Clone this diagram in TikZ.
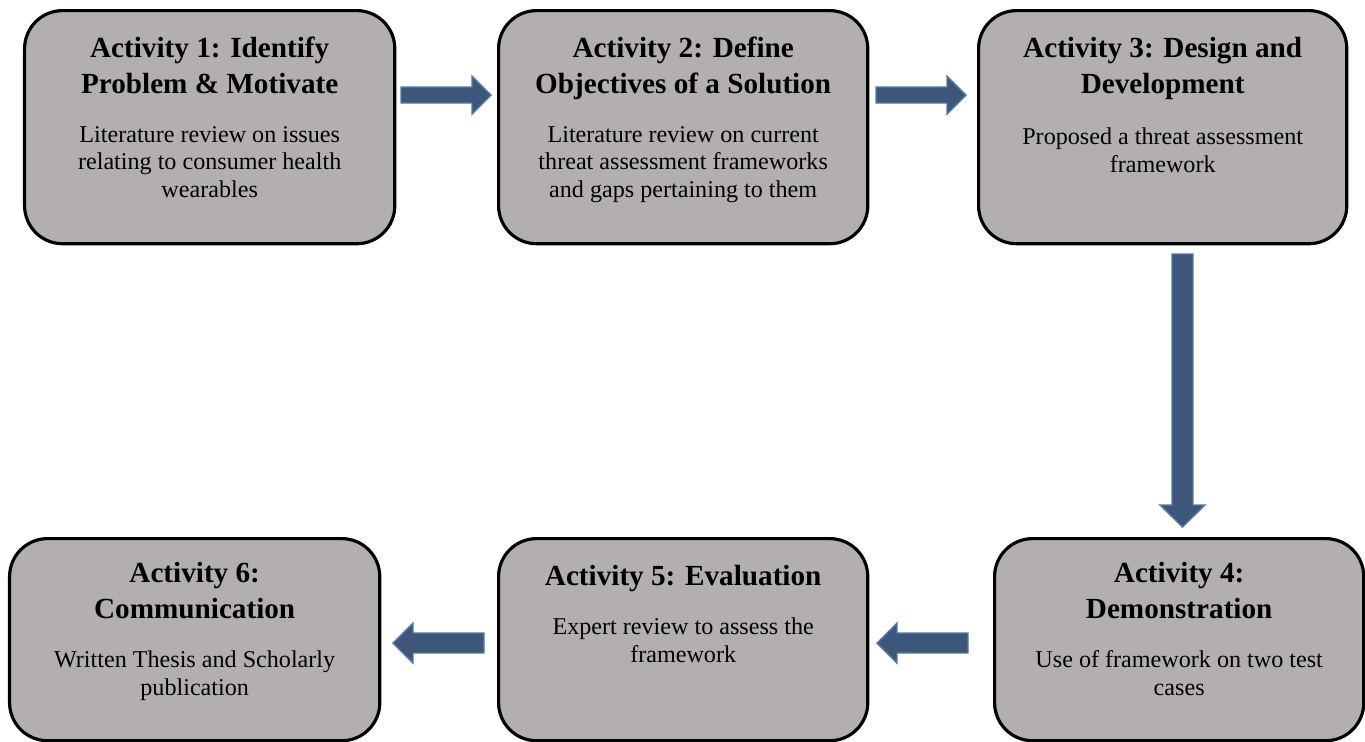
\documentclass[tikz,border=0pt]{standalone}
\usepackage{fontspec}
\setmainfont{Liberation Serif}
\usetikzlibrary{calc}
\definecolor{boxgray}{RGB}{178,175,174}
\definecolor{arrfill}{RGB}{62,86,122}
\definecolor{arrline}{RGB}{84,122,168}
\begin{document}
\begin{tikzpicture}[x=0.01cm,y=-0.01cm,
  actbox/.style={draw=black, line width=0.9pt, fill=boxgray, rounded corners=0.38cm, inner sep=0pt, anchor=north west},
  ttl/.style={font=\fontsize{8.3}{10}\selectfont\bfseries, align=center, inner sep=0pt, anchor=base},
  body/.style={font=\fontsize{6.86}{7.75}\selectfont, align=center, inner sep=0pt, anchor=base},
  blockarrow/.style={fill=arrfill, draw=arrline, line width=0.4pt, line join=miter}]
\useasboundingbox (0,0) rectangle (1365,741);

% boxes
\node[actbox, minimum width=3.70cm, minimum height=2.33cm] (b1) at (23,9) {};
\node[actbox, minimum width=3.69cm, minimum height=2.33cm] (b2) at (497,9) {};
\node[actbox, minimum width=3.68cm, minimum height=2.33cm] (b3) at (977,9) {};
\node[actbox, minimum width=3.69cm, minimum height=2.02cm] (b4) at (993,537) {};
\node[actbox, minimum width=3.69cm, minimum height=2.02cm] (b5) at (497,537) {};
\node[actbox, minimum width=3.70cm, minimum height=2.02cm] (b6) at (8,537) {};

% texts (anchor base = last line)
\node[ttl] (t1) at ($(b1.north)+(0,84)$) {Activity 1: Identify\\Problem \& Motivate};
\node[body] (d1) at ($(b1.north)+(0,188)$) {Literature review on issues\\relating to consumer health\\wearables};
\node[ttl] (t2) at ($(b2.north)+(0,84)$) {Activity 2: Define\\Objectives of a Solution};
\node[body] (d2) at ($(b2.north)+(0,188)$) {Literature review on current\\threat assessment frameworks\\and gaps pertaining to them};
\node[ttl] (t3) at ($(b3.north)+(0,84)$) {Activity 3: Design and\\Development};
\node[body] (d3) at ($(b3.north)+(0,163)$) {Proposed a threat assessment\\framework};
\node[ttl] (t4) at ($(b4.north)+(0,81)$) {Activity 4:\\Demonstration};
\node[body] (d4) at ($(b4.north)+(0,158)$) {Use of framework on two test\\cases};
\node[ttl] (t5) at ($(b5.north)+(0,48)$) {Activity 5: Evaluation};
\node[body] (d5) at ($(b5.north)+(0,125)$) {Expert review to assess the\\framework};
\node[ttl] (t6) at ($(b6.north)+(0,81)$) {Activity 6:\\Communication};
\node[body] (d6) at ($(b6.north)+(0,158)$) {Written Thesis and Scholarly\\publication};

% block arrows
\draw[blockarrow] (401,87) -- (472,87) -- (472,76) -- (491,95) -- (472,114) -- (472,103) -- (401,103) -- cycle;
\draw[blockarrow] (876,87) -- (947,87) -- (947,76) -- (966,95) -- (947,114) -- (947,103) -- (876,103) -- cycle;
\draw[blockarrow] (1172,254) -- (1193,254) -- (1193,505) -- (1205,505) -- (1182.5,527) -- (1160,505) -- (1172,505) -- cycle;
\draw[blockarrow] (968,633) -- (897,633) -- (897,623) -- (877,643) -- (897,663) -- (897,653) -- (968,653) -- cycle;
\draw[blockarrow] (484,633) -- (413,633) -- (413,623) -- (393,643) -- (413,663) -- (413,653) -- (484,653) -- cycle;
\end{tikzpicture}
\end{document}
